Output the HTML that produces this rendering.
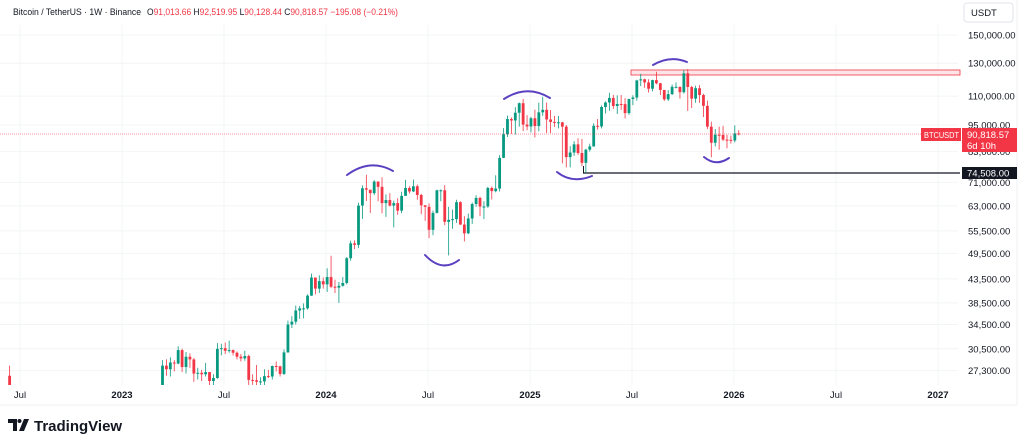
<!DOCTYPE html>
<html><head><meta charset="utf-8"><style>
body{margin:0;background:#fff;width:1024px;height:447px;overflow:hidden;font-family:"Liberation Sans",sans-serif}
svg{display:block}
</style></head><body>
<svg id="chart" width="1024" height="447">
<rect x="0" y="0" width="1024" height="447" fill="#fff"/>
<line x1="1017" y1="0" x2="1017" y2="405" stroke="#eef0f3"/>
<line x1="0" y1="405" x2="1017" y2="405" stroke="#eef0f3"/>
<g id="grid"></g>
<text x="13" y="15" font-size="9" fill="#131722" textLength="128" lengthAdjust="spacingAndGlyphs">Bitcoin / TetherUS · 1W · Binance</text>
<text x="147" y="15" font-size="9" fill="#131722" textLength="251" lengthAdjust="spacingAndGlyphs">O<tspan fill="#f23645">91,013.66</tspan>  H<tspan fill="#f23645">92,519.95</tspan>  L<tspan fill="#f23645">90,128.44</tspan>  C<tspan fill="#f23645">90,818.57</tspan>  <tspan fill="#f23645">−195.08 (−0.21%)</tspan></text>
<rect x="964" y="3" width="49" height="19" rx="3" fill="#fff" stroke="#e0e3eb"/>
<text x="971" y="16" font-size="9.5" fill="#131722">USDT</text>
<defs><clipPath id="plotclip"><rect x="0" y="25" width="958" height="360"/></clipPath></defs>
<g id="annot">
<rect x="631" y="70" width="329" height="5" fill="#fde4e6" stroke="#f23645" stroke-width="0.8"/>
<line x1="583" y1="173" x2="960" y2="173" stroke="#131722" stroke-width="1.2"/>
<line x1="583.5" y1="166" x2="583.5" y2="173" stroke="#131722" stroke-width="1"/>
<g fill="none" stroke="#5b3fc2" stroke-width="2" stroke-linecap="round">
<path d="M347 175 Q370 158 393 171"/>
<path d="M425 255 Q442 273 459 260"/>
<path d="M504 99 Q527 84 550 98"/>
<path d="M557 172 Q572 184 592 176"/>
<path d="M653 65 Q670 55 687 62"/>
<path d="M704 157 Q716 167 729 158"/>
</g></g>
<g id="candles" clip-path="url(#plotclip)"></g>
<line x1="0" y1="134" x2="960" y2="134" stroke="#f23645" stroke-width="0.7" stroke-dasharray="1 1" opacity="0.7"/>
<g id="yaxis"></g>
<g id="xaxis"></g>
<rect x="921" y="128" width="40" height="13" fill="#f23645"/>
<text x="924" y="138" font-size="8.5" fill="#fff" textLength="35" lengthAdjust="spacingAndGlyphs">BTCUSDT</text>
<rect x="962" y="128" width="55" height="24" fill="#f23645"/>
<text x="967" y="138" font-size="9.5" fill="#fff">90,818.57</text>
<text x="967" y="149" font-size="9.5" fill="#fff">6d 10h</text>
<rect x="962" y="167" width="55" height="12" fill="#131722"/>
<text x="967" y="176.5" font-size="9.5" fill="#fff">74,508.00</text>
<g>
<path d="M8 419h9v12h-4v-8h-5z M19 431l5-12h5l-5 12z" fill="#131722"/>
<circle cx="19.5" cy="421" r="2" fill="#131722"/>
<text x="34" y="431" font-size="15" font-weight="bold" fill="#131722">TradingView</text>
</g>
</svg>
<script>
const closes=[28000,27500,28450,28300,30300,27800,29300,28900,26900,27000,26800,27100,25900,26300,30500,30600,30200,30300,29900,29300,29050,29400,26050,26000,25800,25850,26550,26500,27950,27900,26850,29950,34500,35000,37050,37450,37450,39950,43800,41400,43000,42300,
43900,41800,41600,42000,42600,48300,52100,51700,63100,68900,68400,67200,71300,69400,63900,64900,63100,63900,61500,66300,69000,67800,69600,66600,63200,62700,55800,60800,68200,68200,58100,58700,58900,64200,57300,54800,59100,63600,65600,62800,62800,69000,67900,68800,80400,90600,97900,97200,101100,106100,95200,94300,98300,
94500,101300,102600,97700,96500,96100,96300,94200,80700,82600,86100,82400,78400,83800,85200,94600,94300,104100,106500,109000,104600,105700,105600,100900,108400,109200,119100,119800,117900,114200,119300,117400,113500,108200,111100,115300,115300,112200,123500,115200,108600,114500,110600,104700,94200,86800,90400,90300,88200,88100,87800,91013,90818.57];
const highs=[28800,28900,29200,28800,30900,30500,30000,29800,29100,27700,27400,28400,27100,26800,31400,31300,31500,31800,30400,30100,29700,30200,29600,26800,28100,26400,27500,27400,28000,28600,28000,30400,35200,36000,38000,37900,38400,40200,44700,43500,44300,43800,
45900,48900,43300,42800,43900,48600,52800,52900,64000,69900,73800,68100,71800,71300,72800,66800,67200,64700,65500,67700,71900,69600,72000,70200,67000,63200,63800,61500,68400,68500,70000,62700,61800,65000,64500,59800,60600,64100,66500,66000,64500,69400,69500,73600,81500,93500,99600,98700,104000,106500,108400,99900,99000,
102700,106400,109600,106500,102500,99500,99500,96500,95000,85300,87500,88800,88500,84200,86400,95800,97900,104900,107100,111900,110700,110400,110600,108900,108500,110500,119500,123200,120200,119800,119500,124500,117600,113400,113400,116700,117900,115500,125700,126200,115900,116000,116400,111300,107500,96600,93100,94200,94600,90400,90000,94800,92520];
const lows=[20600,26600,26500,27200,28200,27100,26900,27700,25800,26100,25900,26500,25350,24800,26200,29500,29700,29900,29500,28900,28600,28700,25200,25400,25300,24900,24900,26300,26100,27200,26500,26700,29900,33900,34500,35500,35600,37200,39900,40200,40500,41400,
40700,41500,40500,38500,41800,42300,47700,50600,50900,59000,64600,60800,66600,64500,60700,59600,62800,56500,60200,60700,66300,67100,67600,65000,60400,58400,53500,54300,60600,64500,57100,49000,56100,57800,57200,52600,54600,57500,62700,59800,58900,62400,65100,67500,67800,80300,89400,90800,90500,94200,92100,92500,91500,
89200,92000,99500,91200,91200,94100,93400,78200,76600,76600,81200,81600,77100,74500,83000,85100,92800,93400,100700,102100,103100,100400,102600,98200,100000,105100,107500,115700,114700,112000,112700,116800,110600,107300,107300,110600,114400,108600,111400,102000,103500,106300,106300,98900,93000,80600,85200,83800,87500,84400,86500,87000,90128];
const firstOpen=20600;
const priorCandle={week:-39,open:26600,high:28000,low:17600,close:20500};
const priceTicks=[150000,130000,110000,95000,83000,71000,63000,55500,49500,43500,38500,34500,30500,27300];
const timeLabels=["Jul","2023","Jul","2024","Jul","2025","Jul","2026","Jul","2027"];
const timeLabelYears=[2022.5,2023,2023.5,2024,2024.5,2025,2025.5,2026,2026.5,2027];

const NS="http://www.w3.org/2000/svg";
const yScale=p=>35+(Math.log(150000)-Math.log(p))*197;
const xWeek=i=>162.5+i*3.92;
const xYear=yr=>122+(yr-2023)*204;
function mk(tag,attrs,parent){const e=document.createElementNS(NS,tag);for(const k in attrs)e.setAttribute(k,attrs[k]);parent.appendChild(e);return e;}
const grid=document.getElementById('grid'),ya=document.getElementById('yaxis'),xa=document.getElementById('xaxis'),cg=document.getElementById('candles');
priceTicks.forEach(p=>{
  const y=yScale(p);
  const gl=mk('line',{x1:0,x2:958,y1:y,y2:y,stroke:'#f3f4f6','stroke-width':1},grid);
  
  
  const t=mk('text',{x:968,y:y+3.5,'font-size':9.5,fill:'#131722'},ya);
  t.textContent=p.toLocaleString('en-US')+'.00';
  
  
});
timeLabels.forEach((lab,i)=>{
  const x=xYear(timeLabelYears[i]);
  const gl=mk('line',{x1:x,x2:x,y1:25,y2:385,stroke:'#f3f4f6'},grid);
  
  
  const bold=lab!=='Jul';
  const t=mk('text',{x:x,y:398,'font-size':9.5,'text-anchor':'middle',fill:'#131722','font-weight':bold?'bold':'normal'},xa);
  t.textContent=lab;
  
  
});
function candle(x,o,h,l,c){
  const col=c>=o?'#089981':'#f23645';
  const g=mk('g',{},cg);
  
  
  mk('line',{x1:x,x2:x,y1:yScale(h),y2:yScale(l),stroke:col,'stroke-width':0.8},g);
  const yt=yScale(Math.max(o,c)),yb=yScale(Math.min(o,c));
  mk('rect',{x:x-1.4,y:yt,width:2.8,height:Math.max(1,yb-yt),fill:col},g);
}
candle(xWeek(priorCandle.week),priorCandle.open,priorCandle.high,priorCandle.low,priorCandle.close);
closes.forEach((c,i)=>{
  const o=i===0?firstOpen:closes[i-1];
  candle(xWeek(i),o,highs[i],lows[i],c);
});
</script>
</body></html>
